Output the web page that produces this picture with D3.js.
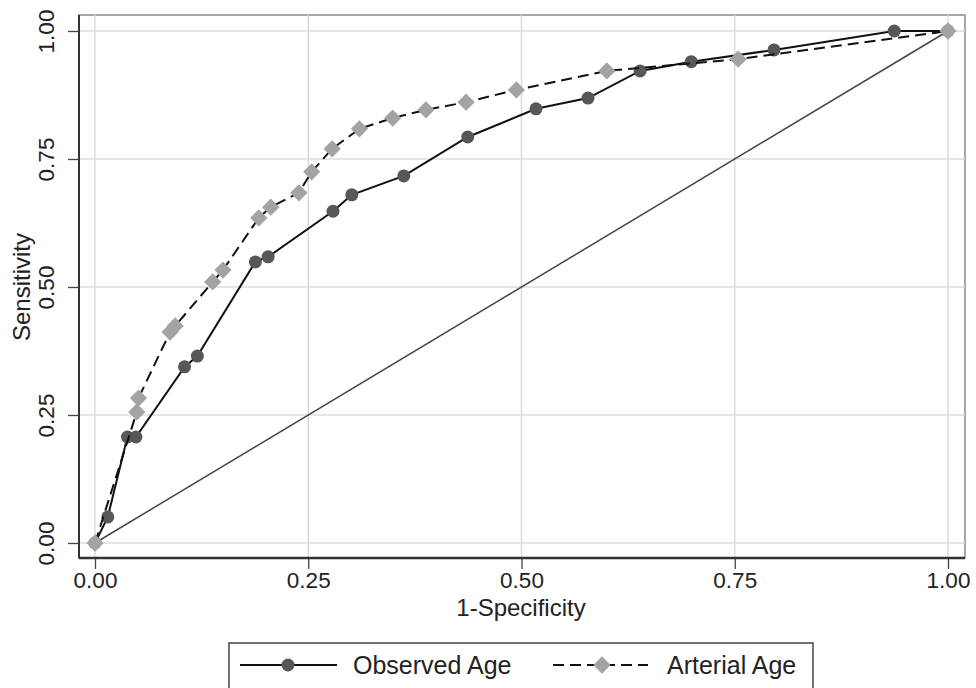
<!DOCTYPE html>
<html>
<head>
<meta charset="utf-8">
<script src="https://cdn.jsdelivr.net/npm/d3@7"></script>
<style>
  body { margin: 0; background: #fff; }
  text { font-family: "Liberation Sans", Arial, sans-serif; fill: #222; }
</style>
</head>
<body>
<svg id="chart" width="976" height="688"></svg>
<script>
// Observed Age ROC points
var observedX = [0, 0.015, 0.038, 0.048, 0.105, 0.12, 0.188, 0.203, 0.279, 0.301, 0.362, 0.437, 0.517, 0.578, 0.639, 0.699, 0.796, 0.937, 1]
var observedY = [0, 0.051, 0.207, 0.207, 0.344, 0.365, 0.549, 0.559, 0.648, 0.68, 0.717, 0.793, 0.848, 0.869, 0.922, 0.94, 0.963, 1, 1]

// Arterial Age ROC points
var arterialX = [0, 0.049, 0.051, 0.088, 0.094, 0.138, 0.15, 0.192, 0.206, 0.239, 0.254, 0.278, 0.31, 0.349, 0.388, 0.435, 0.494, 0.6, 0.754, 1]
var arterialY = [0, 0.256, 0.283, 0.412, 0.424, 0.51, 0.533, 0.635, 0.656, 0.684, 0.725, 0.77, 0.809, 0.83, 0.846, 0.861, 0.885, 0.922, 0.945, 1]

var ticks = [0, 0.25, 0.5, 0.75, 1]
var seriesNames = ["Observed Age", "Arterial Age"]

var dimensions = {
    width: 976,
    height: 688,
    frame: { left: 79, right: 965, top: 15, bottom: 558 }
}

var svg = d3.select("#chart")

var xScale = d3.scaleLinear().domain([0, 1]).range([95, 948])
var yScale = d3.scaleLinear().domain([0, 1]).range([543, 31])

var observed = observedX.map((x, i) => ({ x: x, y: observedY[i] }))
var arterial = arterialX.map((x, i) => ({ x: x, y: arterialY[i] }))

// frame (top/right light)
svg.append("rect")
    .attr("x", dimensions.frame.left)
    .attr("y", dimensions.frame.top)
    .attr("width", dimensions.frame.right - dimensions.frame.left)
    .attr("height", dimensions.frame.bottom - dimensions.frame.top)
    .attr("fill", "none")
    .attr("stroke", "#8a8a8a")
    .attr("stroke-width", 1.5)

// grid lines
svg.append("g").selectAll("line")
    .data(ticks).enter().append("line")
    .attr("x1", d => xScale(d)).attr("x2", d => xScale(d))
    .attr("y1", dimensions.frame.top).attr("y2", dimensions.frame.bottom)
    .attr("stroke", "#dcdcdc").attr("stroke-width", 1.5)
svg.append("g").selectAll("line")
    .data(ticks).enter().append("line")
    .attr("y1", d => yScale(d)).attr("y2", d => yScale(d))
    .attr("x1", dimensions.frame.left).attr("x2", dimensions.frame.right)
    .attr("stroke", "#dcdcdc").attr("stroke-width", 1.5)

// axes
var xAxisGen = d3.axisBottom(xScale).tickValues(ticks).tickFormat(d3.format(".2f")).tickSize(11).tickSizeOuter(0)
var xAxis = svg.append("g")
    .attr("transform", `translate(0,${dimensions.frame.bottom})`)
    .call(xAxisGen)
xAxis.select(".domain").remove()
xAxis.selectAll(".tick line").attr("stroke", "#444").attr("stroke-width", 1.3)
xAxis.selectAll(".tick text")
    .attr("dy", "0.71em").attr("y", 14)
    .style("font-size", "22.5px").style("font-family", "Liberation Sans, Arial, sans-serif").attr("fill", "#222")

var yAxisGen = d3.axisLeft(yScale).tickValues(ticks).tickFormat(d3.format(".2f")).tickSize(11).tickSizeOuter(0)
var yAxis = svg.append("g")
    .attr("transform", `translate(${dimensions.frame.left},0)`)
    .call(yAxisGen)
yAxis.select(".domain").remove()
yAxis.selectAll(".tick line").attr("stroke", "#444").attr("stroke-width", 1.3)
yAxis.selectAll(".tick text")
    .attr("x", null).attr("dy", "0.36em")
    .attr("text-anchor", "middle")
    .attr("transform", "translate(-33,0) rotate(-90)")
    .style("font-size", "22.5px").style("font-family", "Liberation Sans, Arial, sans-serif").attr("fill", "#222")

// left and bottom axis lines
svg.append("line")
    .attr("x1", dimensions.frame.left).attr("x2", dimensions.frame.left)
    .attr("y1", dimensions.frame.top).attr("y2", dimensions.frame.bottom)
    .attr("stroke", "#333").attr("stroke-width", 2)
svg.append("line")
    .attr("x1", dimensions.frame.left).attr("x2", dimensions.frame.right)
    .attr("y1", dimensions.frame.bottom).attr("y2", dimensions.frame.bottom)
    .attr("stroke", "#333").attr("stroke-width", 2.5)

// axis titles
svg.append("text")
    .attr("x", (dimensions.frame.left + dimensions.frame.right) / 2 - 1)
    .attr("y", 616)
    .attr("text-anchor", "middle")
    .style("font-size", "24px")
    .text("1-Specificity")
svg.append("text")
    .attr("transform", `translate(30,${yScale(0.5)}) rotate(-90)`)
    .attr("text-anchor", "middle")
    .style("font-size", "24px")
    .text("Sensitivity")

// reference diagonal
svg.append("line")
    .attr("x1", xScale(0)).attr("y1", yScale(0))
    .attr("x2", xScale(1)).attr("y2", yScale(1))
    .attr("stroke", "#444").attr("stroke-width", 1.5)

var lineGen = d3.line().x(d => xScale(d.x)).y(d => yScale(d.y))

svg.append("path")
    .datum(observed)
    .attr("d", lineGen)
    .attr("fill", "none")
    .attr("stroke", "#111")
    .attr("stroke-width", 2)

svg.append("g").selectAll("circle")
    .data(observed).enter().append("circle")
    .attr("cx", d => xScale(d.x))
    .attr("cy", d => yScale(d.y))
    .attr("r", 6.5)
    .attr("fill", "#575757")

svg.append("path")
    .datum(arterial)
    .attr("d", lineGen)
    .attr("fill", "none")
    .attr("stroke", "#111")
    .attr("stroke-width", 2)
    .attr("stroke-dasharray", "11,6")

var diamond = d3.symbol().type(d3.symbolDiamond2).size(190)
svg.append("g").selectAll("path")
    .data(arterial).enter().append("path")
    .attr("d", diamond)
    .attr("transform", d => `translate(${xScale(d.x)},${yScale(d.y)})`)
    .attr("fill", "#a3a3a3")

// legend
var legend = svg.append("g")
legend.append("rect")
    .attr("x", 229).attr("y", 643)
    .attr("width", 584).attr("height", 60)
    .attr("fill", "#fff").attr("stroke", "#444").attr("stroke-width", 1.5)

legend.append("line")
    .attr("x1", 240).attr("x2", 337).attr("y1", 665).attr("y2", 665)
    .attr("stroke", "#111").attr("stroke-width", 2)
legend.append("circle")
    .attr("cx", 288).attr("cy", 665).attr("r", 6.5).attr("fill", "#575757")
legend.append("text")
    .attr("x", 353).attr("y", 674)
    .style("font-size", "25px")
    .text(seriesNames[0])

legend.append("line")
    .attr("x1", 553).attr("x2", 648).attr("y1", 665).attr("y2", 665)
    .attr("stroke", "#111").attr("stroke-width", 2)
    .attr("stroke-dasharray", "11,6")
legend.append("path")
    .attr("d", diamond)
    .attr("transform", "translate(602,665)")
    .attr("fill", "#a3a3a3")
legend.append("text")
    .attr("x", 667).attr("y", 674)
    .style("font-size", "25px")
    .text(seriesNames[1])
</script>
</body>
</html>
